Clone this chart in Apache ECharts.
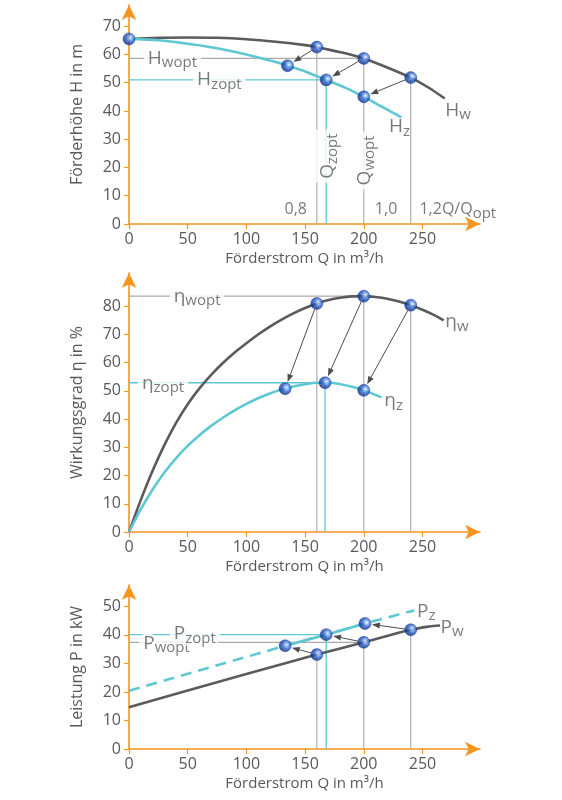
<!DOCTYPE html>
<html><head><meta charset="utf-8">
<script src="https://cdn.jsdelivr.net/npm/echarts@6/dist/echarts.min.js"></script>
<style>html,body{margin:0;padding:0;background:#fff}#c{width:562px;height:800px}</style>
</head><body><div id="c"></div>
<script>
// ---- tick labels ----
const Q_ticks = [0, 50, 100, 150, 200, 250];
const H_ticks = [0, 10, 20, 30, 40, 50, 60, 70];
const eta_ticks = [0, 10, 20, 30, 40, 50, 60, 70, 80];
const P_ticks = [0, 10, 20, 30, 40, 50];

// ---- head curves ----
const Hw_Q = [0, 25, 50, 75, 100, 125, 150, 160, 180, 200, 220, 240, 255, 269];
const Hw_H = [65.5, 65.9, 66, 65.9, 65.4, 64.5, 63.3, 62.6, 60.8, 58.6, 55.4, 51.8, 48.3, 44.4];
const Hz_Q = [0, 25, 50, 75, 100, 125, 135, 150, 168, 185, 200, 215, 232];
const Hz_H = [65.5, 65, 63.8, 62.2, 60, 57.3, 56, 54, 51, 48.1, 45, 41.6, 37.7];
const HwPts_Q = [0, 160, 200, 240];
const HwPts_H = [65.5, 62.6, 58.6, 51.8];
const HzPts_Q = [135, 168, 200];
const HzPts_H = [56, 51, 45];

// ---- efficiency curves ----
const etaW_Q = [0, 10, 20, 30, 40, 50, 60, 70, 80, 90, 100, 110, 120, 130, 140, 150, 160, 170, 180, 190, 200, 210, 220, 230, 240, 250, 260, 268];
const etaW = [0, 11.3, 21.6, 30.7, 38.6, 45.3, 50.9, 55.7, 59.9, 63.6, 66.9, 70.0, 72.8, 75.3, 77.5, 79.4, 81.0, 82.2, 83.0, 83.5, 83.6, 83.3, 82.7, 81.7, 80.4, 78.8, 76.9, 75.0];
const etaZ_Q = [0, 10, 20, 30, 40, 50, 60, 70, 80, 90, 100, 110, 120, 130, 140, 150, 160, 170, 180, 190, 200, 210, 215];
const etaZ = [0, 8, 15, 21, 26.1, 30.5, 34.3, 37.6, 40.5, 43.1, 45.4, 47.4, 49.1, 50.5, 51.6, 52.4, 52.9, 52.9, 52.4, 51.5, 50.2, 48.6, 47.7];
const etaWPts_Q = [160, 200, 240];
const etaWPts = [81.0, 83.6, 80.4];
const etaZPts_Q = [133, 167, 200];
const etaZPts = [50.8, 52.9, 50.2];

// ---- power curves ----
const Pw_Q = [0, 50, 100, 160, 200, 240, 255, 265];
const Pw = [14.6, 20.5, 26.3, 33.1, 37.4, 41.8, 42.9, 43.3];
const Pz_Q = [0, 133, 168, 201, 243];
const Pz = [20.4, 36.2, 40.1, 44.0, 48.6];
const PwPts_Q = [160, 200, 240];
const PwPts = [33.1, 37.4, 41.8];
const PzPts_Q = [133, 168, 201];
const PzPts = [36.2, 40.1, 44.0];

// ---- styling ----
const ORANGE = '#f7941d', GRAY = '#5b5b5d', CYAN = '#5ec8d2', REF = '#a9a9a9', TXT = '#58595b';
const FONT = 'Open Sans';
const zip = (a, b) => a.map((v, i) => [v, b[i]]);

const chart = echarts.init(document.getElementById('c'));

const grids = [
  { left: 129, right: 82, top: 5, bottom: 576 },
  { left: 129, right: 82, top: 273, bottom: 268 },
  { left: 129, right: 82, top: 585, bottom: 51 }
];
const yCfg = [
  { max: 77.5, ticks: H_ticks, name: 'Förderhöhe H in m' },
  { max: 91.8, ticks: eta_ticks, name: 'Wirkungsgrad η in %' },
  { max: 57.5, ticks: P_ticks, name: 'Leistung P in kW' }
];
const axisLine = { lineStyle: { color: ORANGE, width: 1.6 }, symbol: ['none', 'arrow'], symbolSize: [11, 15] };
const xAxes = grids.map((g, i) => ({
  type: 'value', gridIndex: i, min: 0, max: 299,
  name: 'Förderstrom Q in m³/h', nameLocation: 'middle', nameGap: 27,
  nameTextStyle: { color: TXT, fontFamily: FONT, fontSize: 15 },
  axisLine, axisTick: { show: true, length: 5, customValues: Q_ticks, lineStyle: { color: ORANGE, width: 1.2 } },
  axisLabel: { customValues: Q_ticks, color: TXT, fontFamily: FONT, fontSize: 16, margin: 7 },
  splitLine: { show: false }
}));
const yAxes = yCfg.map((c, i) => ({
  type: 'value', gridIndex: i, min: 0, max: c.max,
  name: c.name, nameLocation: 'middle', nameGap: 44,
  nameTextStyle: { color: TXT, fontFamily: FONT, fontSize: 16 },
  axisLine, axisTick: { show: true, length: 5, customValues: c.ticks, lineStyle: { color: ORANGE, width: 1.2 } },
  axisLabel: { customValues: c.ticks, color: TXT, fontFamily: FONT, fontSize: 16, margin: 8 },
  splitLine: { show: false }
}));

function curve(i, data, color, extra) {
  return Object.assign({ type: 'line', xAxisIndex: i, yAxisIndex: i, data, smooth: 0.3, symbol: 'none', silent: true, z: 3,
    lineStyle: { color, width: 2.6 } }, extra || {});
}
function ref(i, data, color) {
  return { type: 'line', xAxisIndex: i, yAxisIndex: i, data, symbol: 'none', silent: true, z: 2,
    lineStyle: { color, width: color === CYAN ? 1.3 : 1.1 } };
}
const ball = new echarts.graphic.RadialGradient(0.62, 0.42, 0.62, [
  { offset: 0, color: '#ffffff' }, { offset: 0.22, color: '#8fb6f5' },
  { offset: 0.55, color: '#2457c4' }, { offset: 1, color: '#0c2a78' }]);
function dots(i, data) {
  return { type: 'scatter', xAxisIndex: i, yAxisIndex: i, data, symbolSize: 12, silent: true, z: 10,
    itemStyle: { color: ball, borderColor: '#173a8f', borderWidth: 0.6 } };
}
function arrows(i, from, to) {
  const data = from.map((p, k) => [p[0], p[1], to[k][0], to[k][1]]);
  return { type: 'custom', xAxisIndex: i, yAxisIndex: i, data, silent: true, z: 6,
    encode: { x: [0, 2], y: [1, 3] },
    renderItem(params, api) {
      const a = api.coord([api.value(0), api.value(1)]);
      const b = api.coord([api.value(2), api.value(3)]);
      const dx = b[0] - a[0], dy = b[1] - a[1], len = Math.hypot(dx, dy);
      const ux = dx / len, uy = dy / len;
      const s = [a[0] + ux * 6, a[1] + uy * 6], e = [b[0] - ux * 7, b[1] - uy * 7];
      const hl = 8, hw = 3;
      const base = [e[0] - ux * hl, e[1] - uy * hl];
      return { type: 'group', children: [
        { type: 'line', shape: { x1: s[0], y1: s[1], x2: base[0], y2: base[1] }, style: { stroke: '#4d4d4f', lineWidth: 1 } },
        { type: 'polygon', shape: { points: [e, [base[0] - uy * hw, base[1] + ux * hw], [base[0] + uy * hw, base[1] - ux * hw]] },
          style: { fill: '#4d4d4f' } }
      ] };
    } };
}
// rich text styles: main letter + lowered subscript
const richStd = {
  m: { fontSize: 19, color: TXT, fontFamily: FONT },
  s: { fontSize: 15, color: TXT, fontFamily: FONT, padding: [9, 0, 0, 0] },
  n: { fontSize: 16, color: TXT, fontFamily: FONT }
};
const richBorder = {
  m: { fontSize: 19, color: TXT, fontFamily: FONT, textBorderColor: '#fff', textBorderWidth: 5 },
  s: { fontSize: 15, color: TXT, fontFamily: FONT, padding: [9, 0, 0, 0], textBorderColor: '#fff', textBorderWidth: 5 },
  g: { width: 4, height: 12, backgroundColor: '#fff' }
};
function lab(x, y, text, opts) {
  opts = opts || {};
  const bg = opts.bg === undefined ? '#fff' : opts.bg;
  return { value: [x, y], label: {
    show: true, formatter: text, rich: opts.rich || richStd,
    backgroundColor: bg || 'transparent', padding: bg ? [0, 4] : 0,
    position: opts.pos || 'inside', distance: 0, rotate: opts.rotate || 0 } };
}
function labels(i, data) {
  return { type: 'scatter', xAxisIndex: i, yAxisIndex: i, data, symbolSize: 1, silent: true, z: 8,
    itemStyle: { color: 'rgba(0,0,0,0)' }, label: { show: true } };
}

// derived geometry (from point arrays)
const HwP = zip(HwPts_Q, HwPts_H), HzP = zip(HzPts_Q, HzPts_H);
const eWP = zip(etaWPts_Q, etaWPts), eZP = zip(etaZPts_Q, etaZPts);
const PwP = zip(PwPts_Q, PwPts), PzP = zip(PzPts_Q, PzPts);
const vert = (p) => [[p[0], p[1]], [p[0], 0]];
const horiz = (p) => [[0, p[1]], [p[0], p[1]]];
const plain = { bg: null, pos: 'right' };
const bord = { bg: null, rich: richBorder };

const series = [
  // ---- chart 1 ----
  ref(0, horiz(HwP[2]), REF), ref(0, horiz(HzP[1]), CYAN),
  ref(0, vert(HwP[1]), REF), ref(0, vert(HwP[2]), REF), ref(0, vert(HwP[3]), REF), ref(0, vert(HzP[1]), CYAN),
  curve(0, zip(Hw_Q, Hw_H), GRAY), curve(0, zip(Hz_Q, Hz_H), CYAN),
  arrows(0, HwP.slice(1), HzP),
  dots(0, HwP.concat(HzP)),
  labels(0, [
    lab(37, HwP[2][1], '{m|H}{s|wopt}'),
    lab(77, HzP[1][1], '{m|H}{s|zopt}'),
    lab(HzP[1][0] + 1.5, 24, '{m|Q}{s|zopt}', { rotate: 90 }),
    lab(HwP[2][0] + 1, 22.5, '{m|Q}{s|wopt}', { rotate: 90 }),
    lab(142, 5.3, '{n|0,8}', { bg: null }),
    lab(219, 5.3, '{n|1,0}', { bg: null }),
    lab(247, 5.3, '{n|1,2Q/Q}{s|opt}', plain),
    lab(269, 40.3, '{m|H}{s|w}', plain),
    lab(221, 34.4, '{m|H}{s|z}', plain)
  ]),
  // ---- chart 2 ----
  ref(1, horiz(eWP[1]), REF), ref(1, horiz(eZP[1]), CYAN),
  ref(1, vert(eWP[0]), REF), ref(1, vert(eWP[1]), REF), ref(1, vert(eWP[2]), REF), ref(1, vert(eZP[1]), CYAN),
  curve(1, zip(etaW_Q, etaW), GRAY), curve(1, zip(etaZ_Q, etaZ), CYAN),
  arrows(1, eWP, eZP),
  dots(1, eWP.concat(eZP)),
  labels(1, [
    lab(58, eWP[1][1], '{m|η}{s|wopt}'),
    lab(29, eZP[1][1] - 0.3, '{m|η}{s|zopt}'),
    lab(269, 74.5, '{m|η}{s|w}', plain),
    lab(217, 46.5, '{m|η}{s|z}', plain)
  ]),
  // ---- chart 3 ----
  ref(2, horiz(PwP[1]), REF), ref(2, horiz(PzP[1]), CYAN),
  ref(2, vert(PwP[0]), REF), ref(2, vert(PwP[1]), REF), ref(2, vert(PwP[2]), REF), ref(2, vert(PzP[1]), CYAN),
  curve(2, zip(Pw_Q, Pw), GRAY, { smooth: 0.3 }),
  curve(2, zip(Pz_Q, Pz), CYAN, { smooth: false, lineStyle: { color: CYAN, width: 2.6, type: [11, 7] } }),
  curve(2, zip(Pz_Q, Pz).slice(1, 4), CYAN, { smooth: false, lineStyle: { color: CYAN, width: 2.6 } }),
  arrows(2, PwP, PzP),
  dots(2, PwP.concat(PzP)),
  labels(2, [
    lab(32, PwP[1][1] - 0.3, '{g|}{m|P}{s|wopt}{g|}', bord),
    lab(56, PzP[1][1] + 0.3, '{g|}{m|P}{s|zopt}{g|}', bord),
    lab(245, 48.3, '{m|P}{s|z}', plain),
    lab(265, 42.7, '{m|P}{s|w}', plain)
  ])
];

chart.setOption({
  animation: false,
  backgroundColor: '#fff',
  textStyle: { fontFamily: FONT },
  grid: grids,
  xAxis: xAxes,
  yAxis: yAxes,
  series
});
</script></body></html>
